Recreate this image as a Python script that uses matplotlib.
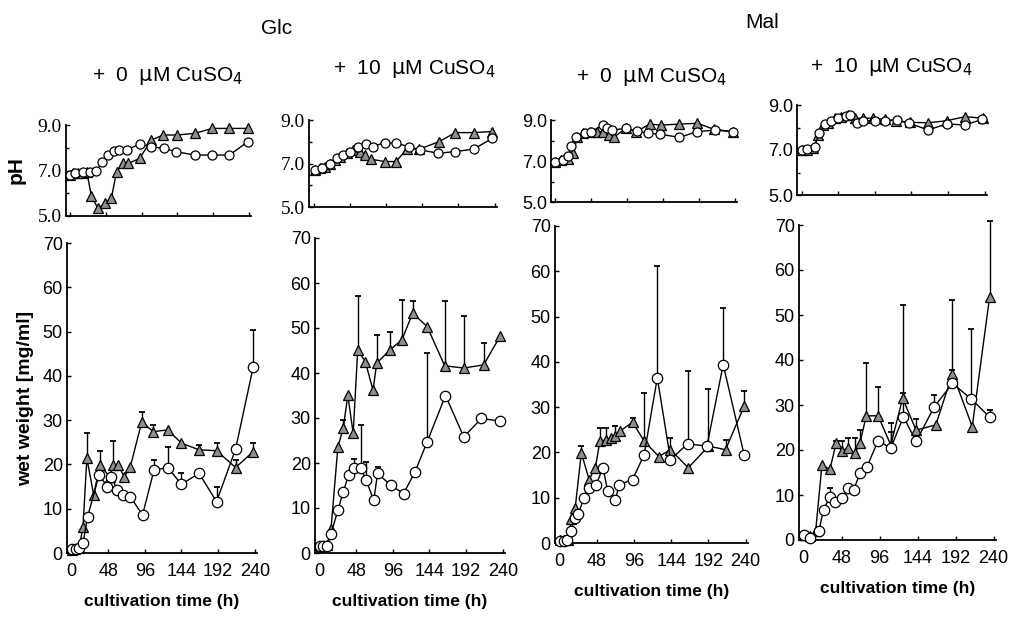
import numpy as np
import matplotlib
matplotlib.use('Agg')
import matplotlib.pyplot as plt

plt.rcParams['font.family'] = ['Liberation Sans', 'DejaVu Sans']

n = np.nan
W, H = 1018, 627

# ---------------- Glc, + 0 uM CuSO4 ----------------
glc0_ph_tri_t = [0, 4, 10, 17, 22, 28, 37, 46, 55, 62, 71, 78, 93, 109, 125, 143, 167, 191, 214, 239]
glc0_ph_tri = [6.8, 6.87, 6.87, 6.9, 6.94, 5.9, 5.33, 5.55, 5.77, 6.94, 7.34, 7.31, 7.53, 8.34, 8.56, 8.56, 8.63, 8.85, 8.85, 8.85]
glc0_ph_circ_t = [0, 6, 17, 26, 35, 43, 51, 58, 66, 76, 93, 109, 126, 142, 167, 191, 214, 239]
glc0_ph_circ = [6.8, 6.87, 6.94, 6.94, 7.0, 7.37, 7.66, 7.85, 7.91, 7.91, 8.16, 8.04, 7.97, 7.83, 7.68, 7.68, 7.68, 8.27]

glc0_ww_tri_t = [0, 5, 10, 15, 20, 29, 37, 50, 54, 61, 69, 77, 92, 107, 126, 144, 167, 190, 215, 238]
glc0_ww_tri = [0.7, 0.9, 1.2, 5.9, 21.4, 13.1, 19.9, 17.2, 19.9, 19.9, 17.2, 19.5, 29.6, 27.4, 27.8, 24.8, 23.3, 23.1, 19.3, 22.9]
glc0_ww_tri_err = [n, n, n, n, 5.6, n, 3.2, n, 5.4, n, n, n, 2.2, 1.5, n, n, 1.1, 1.7, 1.7, 1.9]
glc0_ww_circ_t = [0, 6, 10, 15, 21, 36, 47, 52, 60, 67, 77, 93, 108, 126, 144, 167, 190, 215, 238]
glc0_ww_circ = [0.8, 1.0, 1.1, 2.2, 8.2, 17.6, 15.0, 17.2, 14.2, 13.1, 12.7, 8.6, 18.7, 19.3, 15.5, 18.0, 11.6, 23.5, 42.0]
glc0_ww_circ_err = [n, n, n, n, n, n, n, n, n, n, n, n, 2.3, 4.7, 2.5, n, 3.4, 1.0, 8.3]

# ---------------- Glc, + 10 uM CuSO4 ----------------
glc10_ph_tri_t = [2, 9, 15, 22, 28, 35, 44, 52, 61, 68, 76, 94, 109, 124, 140, 166, 188, 212, 236]
glc10_ph_tri = [6.71, 6.79, 6.86, 7.0, 7.17, 7.32, 7.47, 7.63, 7.55, 7.4, 7.2, 7.09, 7.09, 7.66, 7.66, 8.0, 8.42, 8.42, 8.47]
glc10_ph_circ_t = [2, 11, 22, 31, 39, 48, 59, 70, 79, 94, 109, 126, 141, 165, 188, 212, 237]
glc10_ph_circ = [6.71, 6.79, 7.0, 7.24, 7.4, 7.55, 7.78, 7.9, 7.78, 7.96, 7.93, 7.78, 7.63, 7.47, 7.55, 7.66, 8.16]

glc10_ww_tri_t = [0, 5, 10, 15, 24, 31, 37, 44, 50, 60, 70, 75, 92, 108, 122, 141, 164, 189, 215, 237]
glc10_ww_tri = [1.5, 1.5, 1.8, 5.4, 23.6, 27.7, 35.1, 26.6, 45.1, 42.5, 36.2, 42.2, 45.1, 47.4, 53.3, 50.3, 41.6, 41.1, 41.8, 48.3]
glc10_ww_tri_err = [n, n, n, n, n, 1.8, n, n, 12.1, n, n, 6.3, 4.1, 8.9, 2.6, n, 14.3, 11.5, 4.8, n]
glc10_ww_circ_t = [0, 5, 10, 15, 24, 31, 38, 45, 54, 61, 71, 76, 93, 110, 125, 141, 165, 189, 212, 237]
glc10_ww_circ = [1.5, 1.5, 1.5, 4.3, 9.5, 13.6, 17.3, 18.8, 18.8, 16.2, 11.7, 17.7, 15.1, 13.2, 18.0, 24.7, 35.0, 25.8, 29.9, 29.3]
glc10_ww_circ_err = [n, n, n, n, n, n, n, 2.2, 9.6, 4.1, n, 1.5, n, n, n, 19.7, n, n, n, n]

# ---------------- Mal, + 0 uM CuSO4 ----------------
mal0_ph_tri_t = [0, 8, 17, 24, 29, 37, 46, 55, 64, 72, 79, 94, 108, 126, 141, 166, 190, 212, 237]
mal0_ph_tri = [6.96, 7.04, 7.12, 7.37, 8.18, 8.35, 8.43, 8.43, 8.43, 8.27, 8.18, 8.59, 8.43, 8.8, 8.75, 8.8, 8.84, 8.55, 8.43]
mal0_ph_circ_t = [0, 10, 17, 21, 27, 39, 48, 63, 69, 76, 94, 109, 124, 140, 166, 189, 214, 237]
mal0_ph_circ = [6.96, 7.04, 7.24, 7.73, 8.18, 8.35, 8.43, 8.75, 8.63, 8.51, 8.59, 8.46, 8.35, 8.31, 8.15, 8.43, 8.51, 8.43]

mal0_ww_tri_t = [0, 5, 11, 15, 20, 28, 38, 46, 52, 60, 66, 72, 78, 94, 109, 128, 143, 166, 192, 214, 238]
mal0_ww_tri = [0.7, 0.7, 0.7, 5.2, 7.7, 19.9, 14.0, 16.6, 22.5, 22.8, 23.2, 23.6, 24.7, 26.7, 22.5, 19.1, 20.6, 16.6, 21.4, 20.6, 30.2]
mal0_ww_tri_err = [n, n, n, n, n, 1.5, n, n, 2.9, 2.6, n, 2.2, n, 0.9, 10.6, n, 2.6, n, 12.5, 2.2, 3.3]
mal0_ww_circ_t = [0, 5, 10, 14, 20, 24, 31, 38, 47, 56, 62, 72, 77, 94, 109, 126, 143, 165, 190, 211, 238]
mal0_ww_circ = [0.5, 0.5, 0.7, 2.6, 5.5, 6.3, 9.9, 12.2, 12.9, 16.6, 11.4, 9.6, 12.9, 14.0, 19.5, 36.5, 18.4, 21.9, 21.4, 39.4, 19.5]
mal0_ww_circ_err = [n, n, n, n, n, n, n, n, n, n, n, n, n, n, n, 24.6, n, 16.0, n, 12.5, n]

# ---------------- Mal, + 10 uM CuSO4 ----------------
mal10_ph_tri_t = [0, 7, 15, 22, 28, 35, 44, 52, 61, 70, 81, 94, 109, 124, 142, 166, 190, 214, 238]
mal10_ph_tri = [7.0, 7.0, 7.07, 7.67, 8.11, 8.21, 8.41, 8.48, 8.56, 8.41, 8.41, 8.41, 8.36, 8.3, 8.23, 8.21, 8.3, 8.48, 8.41]
mal10_ph_circ_t = [0, 7, 17, 23, 31, 39, 48, 58, 63, 72, 81, 96, 109, 125, 141, 166, 190, 214, 237]
mal10_ph_circ = [7.0, 7.03, 7.15, 7.74, 8.16, 8.3, 8.41, 8.51, 8.56, 8.19, 8.3, 8.3, 8.3, 8.33, 8.19, 7.89, 8.16, 8.11, 8.36]

mal10_ww_tri_t = [0, 8, 15, 23, 33, 41, 48, 56, 65, 71, 79, 94, 110, 125, 142, 167, 188, 213, 235]
mal10_ww_tri = [1.1, 0.9, 1.9, 16.7, 15.7, 21.5, 19.8, 20.4, 19.3, 21.5, 27.6, 27.6, 21.1, 31.5, 24.4, 25.6, 37.0, 25.2, 54.1]
mal10_ww_tri_err = [n, n, n, n, n, 0.5, 2.1, 2.2, 3.3, 2.9, 11.8, 6.5, 4.8, 20.7, 2.6, n, 16.3, n, 16.9]
mal10_ww_circ_t = [0, 8, 19, 25, 33, 40, 48, 56, 63, 71, 80, 94, 110, 126, 142, 165, 188, 212, 235]
mal10_ww_circ = [1.1, 0.4, 1.9, 6.7, 9.6, 8.5, 9.3, 11.5, 11.1, 14.8, 16.3, 22.1, 20.4, 27.4, 21.9, 29.6, 34.8, 31.3, 27.3]
mal10_ww_circ_err = [n, n, n, n, 1.9, n, n, n, n, n, n, n, 3.5, 5.2, n, 2.6, 3.0, 15.5, 1.6]

time_ticks = [0, 48, 96, 144, 192, 240]

fig = plt.figure(figsize=(W / 100, H / 100), dpi=100)


def px_axes(left, right, top, bottom):
    return fig.add_axes([left / W, 1 - bottom / H, (right - left) / W, (bottom - top) / H])


def px_text(x, y, s, **kw):
    fig.text(x / W, 1 - y / H, s, ha='center', va='center', **kw)


def draw(ax, t, v, marker, face, ms, err=None):
    ax.plot(t, v, color='black', lw=1.0, marker=marker, ms=ms, mfc=face,
            mec='black', mew=0.9, zorder=3, clip_on=False)
    if err is None:
        return
    t = np.asarray(t, float)
    v = np.asarray(v, float)
    e = np.asarray(err, float)
    ok = ~np.isnan(e)
    ax.vlines(t[ok], v[ok], v[ok] + e[ok], color='black', lw=1.0, zorder=2, clip_on=False)
    ax.plot(t[ok], v[ok] + e[ok], ls='none', marker='_', ms=5, mew=1.3,
            color='black', zorder=2, clip_on=False)


def style(ax, ylim, yticks, ylabels, minor=None, serif=False):
    ax.set_xlim(-6, 243)
    ax.set_ylim(*ylim)
    for s in ['top', 'right']:
        ax.spines[s].set_visible(False)
    for s in ['left', 'bottom']:
        ax.spines[s].set_linewidth(1.3)
    ax.set_xticks(time_ticks)
    ax.set_yticks(yticks)
    ax.set_yticklabels(ylabels)
    if minor is not None:
        ax.set_yticks(minor, minor=True)
    ax.tick_params(direction='in', length=3, width=1, labelsize=13)
    ax.tick_params(axis='y', pad=3)
    ax.tick_params(axis='x', pad=7)
    ax.tick_params(which='minor', direction='in', length=2, width=1)
    if serif:
        for lab in ax.get_yticklabels():
            lab.set_family(['Liberation Serif', 'DejaVu Serif'])
            lab.set_fontsize(14)


tri_face = '#8f8f8f'
panels = [
    # pH box, ww box, pH data, ww data
    ((66, 251, 125, 216), (67, 257, 243, 553),
     (glc0_ph_tri_t, glc0_ph_tri, glc0_ph_circ_t, glc0_ph_circ),
     (glc0_ww_tri_t, glc0_ww_tri, glc0_ww_tri_err, glc0_ww_circ_t, glc0_ww_circ, glc0_ww_circ_err), True),
    ((309, 497, 120, 207), (315, 505, 238, 553),
     (glc10_ph_tri_t, glc10_ph_tri, glc10_ph_circ_t, glc10_ph_circ),
     (glc10_ww_tri_t, glc10_ww_tri, glc10_ww_tri_err, glc10_ww_circ_t, glc10_ww_circ, glc10_ww_circ_err), True),
    ((551, 737, 120, 202), (555, 748, 226, 543),
     (mal0_ph_tri_t, mal0_ph_tri, mal0_ph_circ_t, mal0_ph_circ),
     (mal0_ww_tri_t, mal0_ww_tri, mal0_ww_tri_err, mal0_ww_circ_t, mal0_ww_circ, mal0_ww_circ_err), False),
    ((797, 987, 105, 195), (799, 996, 225, 540),
     (mal10_ph_tri_t, mal10_ph_tri, mal10_ph_circ_t, mal10_ph_circ),
     (mal10_ww_tri_t, mal10_ww_tri, mal10_ww_tri_err, mal10_ww_circ_t, mal10_ww_circ, mal10_ww_circ_err), False),
]

for i, (phbox, wwbox, ph, ww, serif) in enumerate(panels):
    ax = px_axes(*phbox)
    draw(ax, ph[0], ph[1], '^', tri_face, 6.5)
    draw(ax, ph[2], ph[3], 'o', 'white', 6.5)
    style(ax, (5, 9), [5, 7, 9], ['5.0', '7.0', '9.0'], minor=[6, 8], serif=serif)
    ax.set_xticklabels([])
    if i == 0:
        ax.set_ylabel('pH', fontsize=15, fontweight='bold', labelpad=9)

    ax = px_axes(*wwbox)
    draw(ax, ww[0], ww[1], '^', tri_face, 7.5, ww[2])
    draw(ax, ww[3], ww[4], 'o', 'white', 7.5, ww[5])
    style(ax, (0, 70), list(range(0, 71, 10)), [str(k) for k in range(0, 71, 10)])
    ax.set_xlabel('cultivation time (h)', fontsize=12.5, fontweight='bold', labelpad=10)
    if i == 0:
        ax.set_ylabel('wet weight [mg/ml]', fontsize=14, fontweight='bold', labelpad=6)

title_kw = dict(fontsize=15)
px_text(277, 28, 'Glc', **title_kw)
px_text(762, 22, 'Mal', **title_kw)
px_text(167, 76, r'+  0  $\mathrm{\mu}$M CuSO$_4$', **title_kw)
px_text(414, 69, r'+  10  $\mathrm{\mu}$M CuSO$_4$', **title_kw)
px_text(651, 77, r'+  0  $\mathrm{\mu}$M CuSO$_4$', **title_kw)
px_text(891, 67, r'+  10  $\mathrm{\mu}$M CuSO$_4$', **title_kw)

fig.savefig('out.png', dpi=100)
